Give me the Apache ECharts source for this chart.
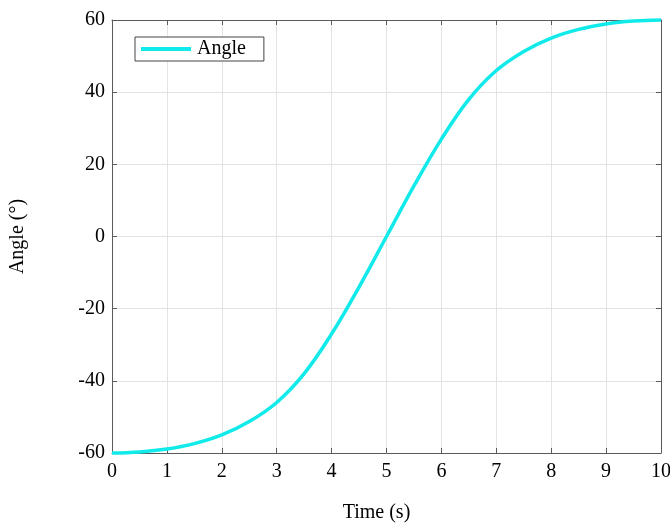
<!DOCTYPE html>
<html>
<head>
<meta charset="utf-8">
<script src="https://cdn.jsdelivr.net/npm/echarts@6/dist/echarts.min.js"></script>
<style>html,body{margin:0;padding:0;background:#fff;}#chart{width:670px;height:524px;}</style>
</head>
<body>
<div id="chart"></div>
<script>
const timeValues = [0, 0.5, 1, 1.5, 2, 2.5, 3, 3.5, 4, 4.5, 5, 5.5, 6, 6.5, 7, 7.5, 8, 8.5, 9, 9.5, 10];
const angleValues = [-60, -59.7, -58.9, -57.4, -55.0, -51.3, -46.0, -38.0, -27.0, -14.0, 0, 14.0, 27.0, 38.0, 46.0, 51.3, 55.0, 57.4, 58.9, 59.7, 60];
const xTicks = [0, 1, 2, 3, 4, 5, 6, 7, 8, 9, 10];
const yTicks = [-60, -40, -20, 0, 20, 40, 60];
const seriesName = 'Angle';
const xTitle = 'Time (s)';
const yTitle = 'Angle (°)';

const font = 'Liberation Serif, Times New Roman, serif';
const axisColor = '#5a5a5a';
const gridColor = '#e3e3e3';
const data = timeValues.map((t, i) => [t, angleValues[i]]);

const chart = echarts.init(document.getElementById('chart'), null, {renderer: 'canvas'});
chart.setOption({
  animation: false,
  backgroundColor: '#fff',
  grid: {left: 112, right: 9, top: 20, bottom: 71, containLabel: false, outerBoundsMode: 'none'},
  legend: {
    left: 135, top: 37,
    padding: [2, 18, 2, 6],
    borderColor: '#444', borderWidth: 1, borderRadius: 0,
    backgroundColor: '#fff',
    itemWidth: 50, itemHeight: 4, itemGap: 0,
    icon: 'rect',
    textStyle: {fontFamily: font, fontSize: 20, color: '#000', padding: [0, 0, 0, 1]},
    data: [{name: seriesName, icon: 'rect'}]
  },
  xAxis: [{
    type: 'value', min: 0, max: 10, interval: 1,
    name: xTitle, nameLocation: 'middle', nameGap: 50,
    nameTextStyle: {fontFamily: font, fontSize: 20, color: '#000', padding: [0, 20, 0, 0]},
    axisLine: {show: true, onZero: false, lineStyle: {color: axisColor, width: 1}},
    axisTick: {show: true, inside: true, length: 5, lineStyle: {color: axisColor}},
    axisLabel: {fontFamily: font, fontSize: 20, color: '#000', margin: 9,
      formatter: v => xTicks.includes(v) ? String(v) : ''},
    splitLine: {show: true, lineStyle: {color: gridColor, width: 1}}
  }, {
    type: 'value', position: 'top', min: 0, max: 10, interval: 1,
    axisLine: {show: true, onZero: false, lineStyle: {color: axisColor, width: 1}},
    axisTick: {show: true, inside: true, length: 5, lineStyle: {color: axisColor}},
    axisLabel: {show: false}, splitLine: {show: false}
  }],
  yAxis: [{
    type: 'value', min: -60, max: 60, interval: 20,
    name: yTitle, nameLocation: 'middle', nameGap: 84, nameRotate: 90,
    nameTextStyle: {fontFamily: font, fontSize: 20, color: '#000'},
    axisLine: {show: true, onZero: false, lineStyle: {color: axisColor, width: 1}},
    axisTick: {show: true, inside: true, length: 5, lineStyle: {color: axisColor}},
    axisLabel: {fontFamily: font, fontSize: 20, color: '#000', margin: 7,
      formatter: v => yTicks.includes(v) ? String(v) : ''},
    splitLine: {show: true, lineStyle: {color: gridColor, width: 1}}
  }, {
    type: 'value', position: 'right', min: -60, max: 60, interval: 20,
    axisLine: {show: true, onZero: false, lineStyle: {color: axisColor, width: 1}},
    axisTick: {show: true, inside: true, length: 5, lineStyle: {color: axisColor}},
    axisLabel: {show: false}, splitLine: {show: false}
  }],
  series: [{
    name: seriesName, type: 'line', data: data,
    xAxisIndex: 0, yAxisIndex: 0,
    smooth: 0.4, showSymbol: false, symbol: 'none',
    lineStyle: {color: '#10eaea', width: 3.5},
    itemStyle: {color: '#10eaea'},
    clip: false
  }]
});
</script>
</body>
</html>
